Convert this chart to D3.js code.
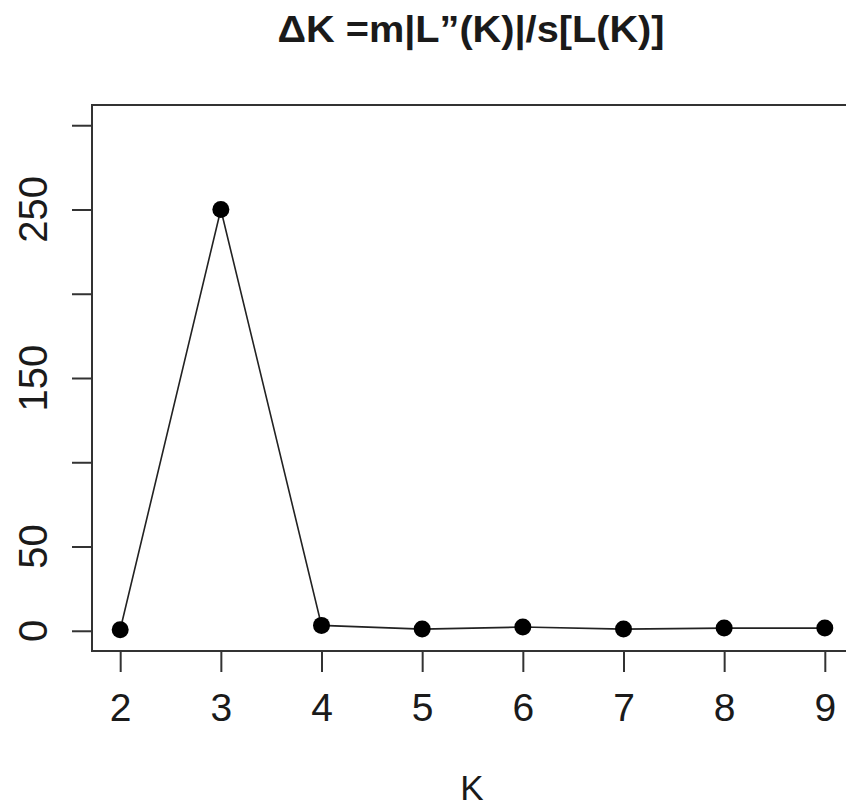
<!DOCTYPE html>
<html>
<head>
<meta charset="utf-8">
<script src="https://cdn.jsdelivr.net/npm/d3@7"></script>
<style>
  body { margin: 0; background: #fff; }
  text { font-family: "Liberation Sans", Arial, sans-serif; fill: #1a1a1a; }
</style>
</head>
<body>
<div id="container"></div>
<script>
// data
var kValues = [2, 3, 4, 5, 6, 7, 8, 9];
var deltaK = [0.6, 250, 3.2, 1.0, 2.2, 1.0, 1.6, 1.6];
var yTicks = [0, 50, 100, 150, 200, 250, 300];
var yTickLabels = [0, 50, 150, 250];   // R dropped the ones that would overlap
var titleText = "ΔK =m|L”(K)|/s[L(K)]";
var xLabel = "K";

var width = 846, height = 806;

var svg = d3.select("#container")
    .append("svg")
    .attr("width", width)
    .attr("height", height);

// R style: 4% padding on each side of the axis range
var x = d3.scaleLinear()
    .domain([1.72, 9.28])
    .range([92, 853]);

var y = d3.scaleLinear()
    .domain([-12, 312])
    .range([651, 105]);

// plot box
svg.append("rect")
    .attr("x", x(1.72))
    .attr("y", y(312))
    .attr("width", x(9.28) - x(1.72))
    .attr("height", y(-12) - y(312))
    .attr("fill", "none")
    .attr("stroke", "#333")
    .attr("stroke-width", 2);

// x axis
var xAxis = svg.append("g")
    .attr("transform", "translate(0," + y(-12) + ")")
    .call(d3.axisBottom(x).tickValues(kValues).tickSize(21).tickPadding(21).tickFormat(d3.format("d")));
xAxis.select(".domain").remove();
xAxis.selectAll("line").attr("stroke", "#333").attr("stroke-width", 2);
xAxis.selectAll("text")
    .style("font-size", "39px")
    .attr("fill", "#1a1a1a");

// y axis
var yAxis = svg.append("g")
    .attr("transform", "translate(" + x(1.72) + ",0)")
    .call(d3.axisLeft(y).tickValues(yTicks).tickSize(20).tickFormat(""));
yAxis.select(".domain").remove();
yAxis.selectAll("line").attr("stroke", "#333").attr("stroke-width", 2);

svg.selectAll(".ylab")
    .data(yTickLabels)
    .enter()
    .append("text")
    .attr("class", "ylab")
    .attr("transform", function(d) { return "translate(47," + y(d) + ") rotate(-90)"; })
    .attr("text-anchor", "middle")
    .style("font-size", "40px")
    .text(function(d) { return d; });

// line
var line = d3.line()
    .x(function(d, i) { return x(kValues[i]); })
    .y(function(d) { return y(d); });

svg.append("path")
    .datum(deltaK)
    .attr("d", line)
    .attr("fill", "none")
    .attr("stroke", "#222")
    .attr("stroke-width", 1.6);

svg.selectAll(".pt")
    .data(deltaK)
    .enter()
    .append("circle")
    .attr("class", "pt")
    .attr("cx", function(d, i) { return x(kValues[i]); })
    .attr("cy", function(d) { return y(d); })
    .attr("r", 8.5)
    .attr("fill", "#000");

// title
svg.append("text")
    .attr("x", 471)
    .attr("y", 42)
    .attr("text-anchor", "middle")
    .attr("textLength", 387)
    .attr("lengthAdjust", "spacingAndGlyphs")
    .style("font-size", "37px")
    .style("font-weight", "bold")
    .text(titleText);

// axis label
svg.append("text")
    .attr("x", 472)
    .attr("y", 800)
    .attr("text-anchor", "middle")
    .style("font-size", "35px")
    .text(xLabel);
</script>
</body>
</html>
